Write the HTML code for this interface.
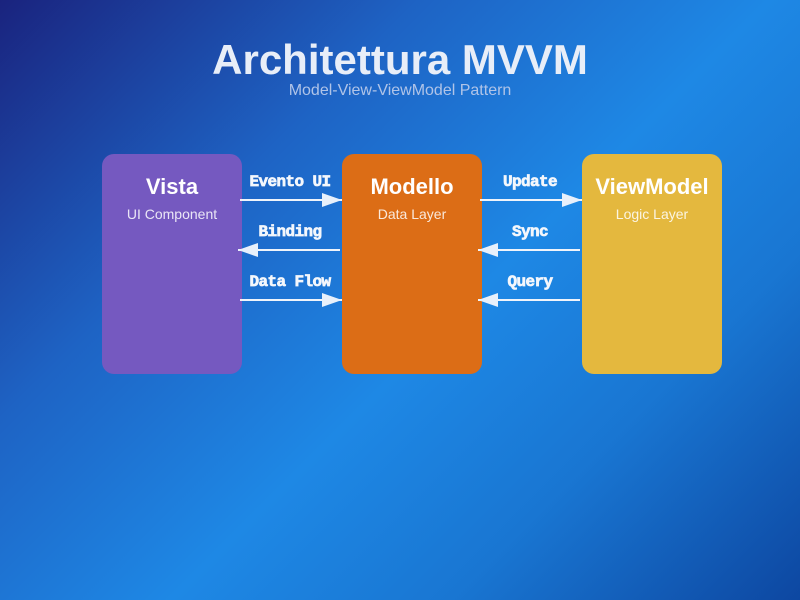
<!DOCTYPE html>
<html><head><meta charset="utf-8"><style>
html,body{margin:0;padding:0;width:800px;height:600px;overflow:hidden}
body{background:linear-gradient(135deg,#1a237e 0%,#1e63c4 30%,#1e88e5 55%,#1976d2 75%,#0d47a1 100%);font-family:"Liberation Sans",sans-serif;position:relative}
.t{position:absolute;left:0;width:800px;text-align:center;color:#e8eef8}
.box{position:absolute;top:154px;width:140px;height:220px;border-radius:12px;text-align:center;color:#fff}
.box h2{margin:20px 0 0;font-size:22px;font-weight:bold}
.box p{margin:6px 0 0;font-size:14px;color:rgba(255,255,255,.85)}
</style></head><body>
<div class="t" style="top:36px;font-size:42px;font-weight:bold">Architettura MVVM</div>
<div class="t" style="top:82px;font-size:16px;color:#b0c4e8">Model-View-ViewModel Pattern</div>
<div class="box" style="left:102px;background:#7559c0"><h2>Vista</h2><p>UI Component</p></div>
<div class="box" style="left:342px;background:#dc6d16"><h2>Modello</h2><p>Data Layer</p></div>
<div class="box" style="left:582px;background:#e4b83e"><h2>ViewModel</h2><p>Logic Layer</p></div>
<svg width="800" height="600" style="position:absolute;left:0;top:0">
<defs><marker id="a" markerWidth="20" markerHeight="14" refX="20" refY="7" orient="auto" markerUnits="userSpaceOnUse"><path d="M0,0L20,7L0,14z" fill="#e8f0fb"/></marker></defs>
<g stroke="#f0f4fb" stroke-width="2" marker-end="url(#a)">
<line x1="240" y1="200" x2="342" y2="200"/>
<line x1="340" y1="250" x2="238" y2="250"/>
<line x1="240" y1="300" x2="342" y2="300"/>
<line x1="480" y1="200" x2="582" y2="200"/>
<line x1="580" y1="250" x2="478" y2="250"/>
<line x1="580" y1="300" x2="478" y2="300"/>
</g>
<g font-family="Liberation Mono,monospace" font-weight="bold" font-size="16" fill="#f4f7fc" text-anchor="middle" stroke="#f4f7fc" stroke-width="0.7" letter-spacing="-0.6">
<text x="290" y="186">Evento UI</text>
<text x="290" y="236">Binding</text>
<text x="290" y="286">Data Flow</text>
<text x="530" y="186">Update</text>
<text x="530" y="236">Sync</text>
<text x="530" y="286">Query</text>
</g>
</svg>
</body></html>
